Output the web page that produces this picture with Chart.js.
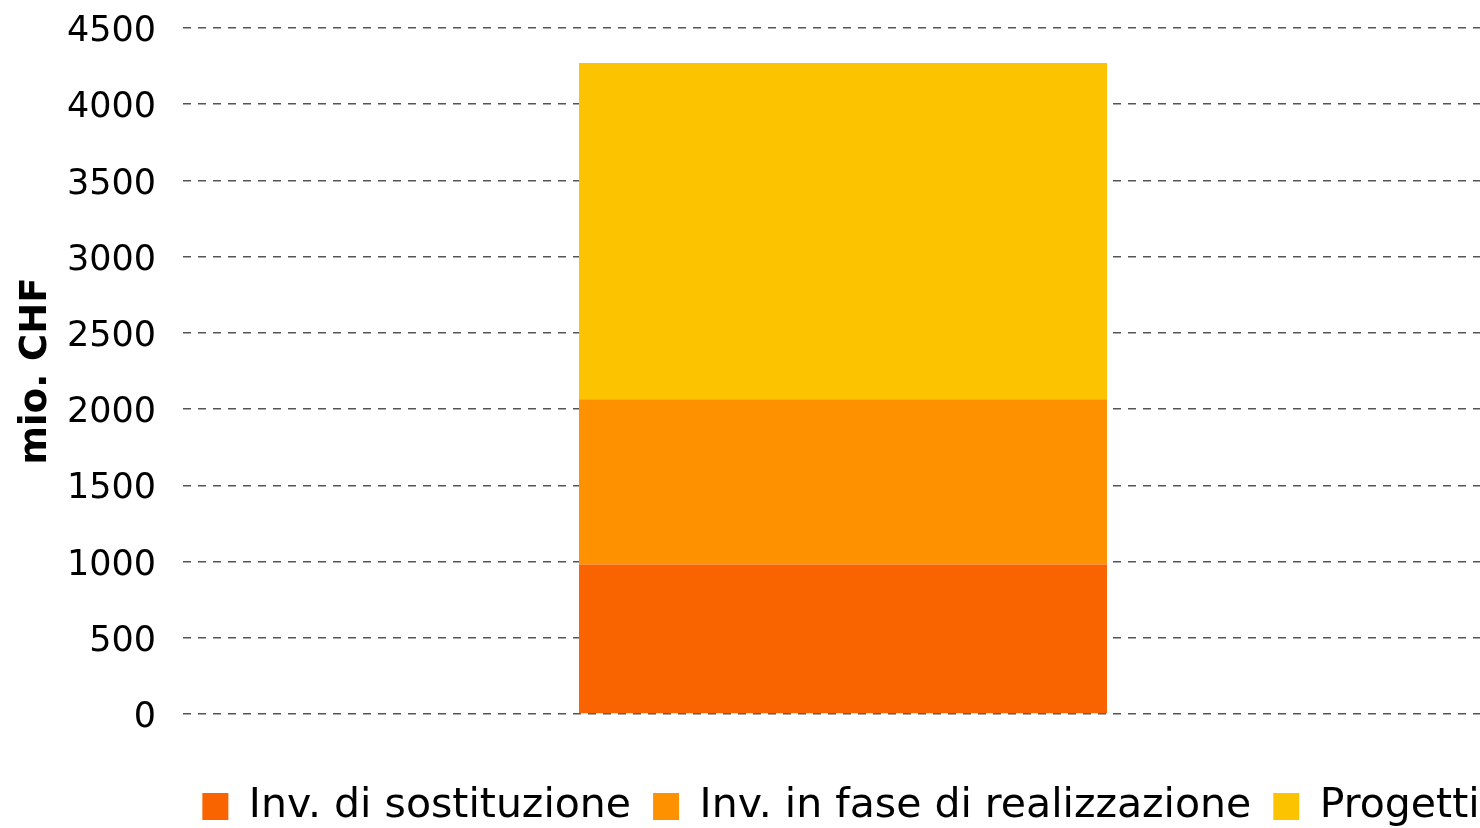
<!DOCTYPE html>
<html lang="it">
<head>
    <meta charset="UTF-8">
    <title>Investimenti</title>
    <script src="https://cdn.jsdelivr.net/npm/chart.js"></script>
    <style>
        body {
            margin: 0;
            background: #fff;
        }
        #wrap {
            width: 1480px;
            height: 828px;
            overflow: hidden;
        }
    </style>
</head>
<body>
    <div id="wrap">
        <canvas id="chart" width="1682" height="837"></canvas>
    </div>

    <script>
        // values (mio. CHF)
        const categories = [''];
        const seriesNames = ['Inv. di sostituzione', 'Inv. in fase di realizzazione', 'Progetti'];
        const sostituzione = [980];
        const realizzazione = [1085];
        const progetti = [2205];
        const yMin = 0;
        const yMax = 4500;
        const yStep = 500;

        const colors = ['#F96300', '#FD9100', '#FBC300'];
        const fontFamily = '"DejaVu Sans", Verdana, sans-serif';

        const ctx = document.getElementById('chart').getContext('2d');

        const chart = new Chart(ctx, {
            type: 'bar',
            data: {
                labels: categories,
                datasets: [
                    { label: seriesNames[0], data: sostituzione, backgroundColor: colors[0] },
                    { label: seriesNames[1], data: realizzazione, backgroundColor: colors[1] },
                    { label: seriesNames[2], data: progetti, backgroundColor: colors[2] },
                ],
            },
            options: {
                responsive: false,
                animation: false,
                barPercentage: 0.4,
                categoryPercentage: 1,
                layout: {
                    padding: { top: 28, left: 0, right: 0, bottom: 0 },
                },
                plugins: {
                    tooltip: { enabled: false },
                    legend: {
                        position: 'bottom',
                        labels: {
                            boxWidth: 26,
                            boxHeight: 27,
                            padding: 22,
                            color: '#000',
                            font: { family: fontFamily, size: 41 },
                        },
                    },
                },
                scales: {
                    x: {
                        stacked: true,
                        grid: { display: false },
                        border: { display: false },
                        ticks: { display: false },
                        afterFit: (s) => { s.height = 50; },
                    },
                    y: {
                        stacked: true,
                        min: yMin,
                        max: yMax,
                        ticks: {
                            stepSize: yStep,
                            padding: 0,
                            labelOffset: 4,
                            color: '#000',
                            font: { family: fontFamily, size: 35 },
                            callback: (v) => String(v),
                        },
                        grid: {
                            color: '#555',
                            lineWidth: 1.5,
                            drawTicks: true,
                            tickLength: 27,
                            tickColor: 'rgba(0,0,0,0)',
                        },
                        border: { display: false, dash: [8, 7] },
                        title: {
                            display: true,
                            text: 'mio. CHF',
                            color: '#000',
                            padding: { top: 14, bottom: 0 },
                            font: { family: fontFamily, size: 37, weight: 'bold' },
                        },
                        afterFit: (s) => { s.width = 183; },
                    },
                    yRight: {
                        position: 'right',
                        grid: { display: false },
                        border: { display: false },
                        ticks: { display: false },
                        afterFit: (s) => { s.width = 179; },
                    },
                },
            },
        });
    </script>
</body>
</html>
